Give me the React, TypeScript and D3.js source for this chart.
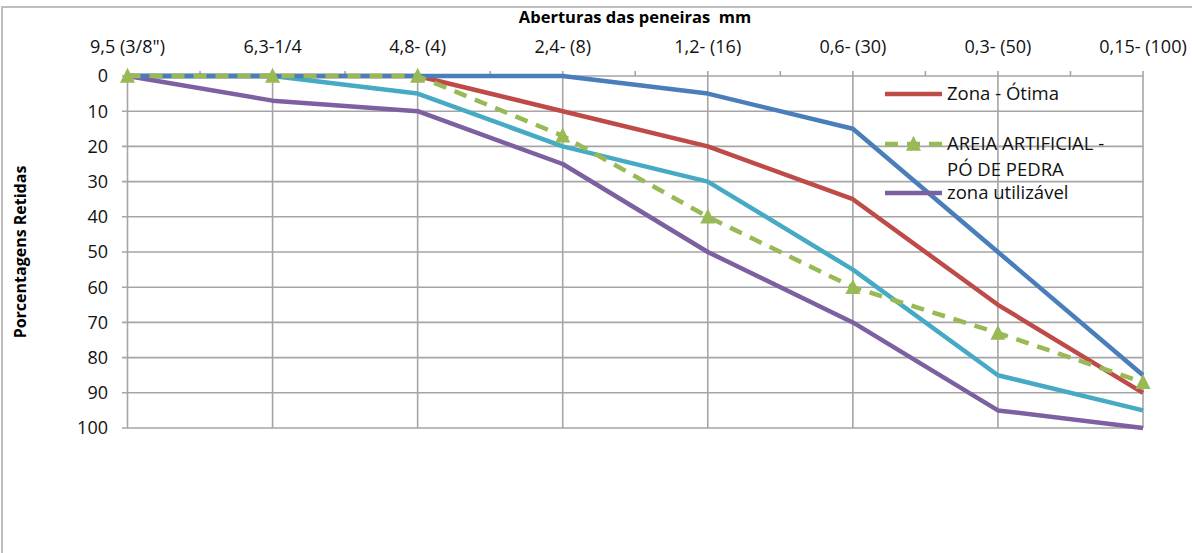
import React from "react";
import * as d3 from "d3";

const categories = ['9,5 (3/8")', "6,3-1/4", "4,8- (4)", "2,4- (8)", "1,2- (16)", "0,6- (30)", "0,3- (50)", "0,15- (100)"];
const yTicks = [0, 10, 20, 30, 40, 50, 60, 70, 80, 90, 100];

const blueUpper = [0, 0, 0, 0, 5, 15, 50, 85];
const zonaOtima = [0, 0, 0, 10, 20, 35, 65, 90];
const cyanLower = [0, 0, 5, 20, 30, 55, 85, 95];
const zonaUtilizavel = [0, 7, 10, 25, 50, 70, 95, 100];
const areiaArtificial = [0, 0, 0, 17, 40, 60, 73, 87];

const W = 1192;
const H = 553;
const FONT = "'Open Sans', sans-serif";

export default function App() {
  const x = d3.scalePoint<string>().domain(categories).range([127.5, 1143]).padding(0);
  const y = d3.scaleLinear().domain([0, 100]).range([76, 428]);
  const line = d3
    .line<number>()
    .x((_, i) => x(categories[i]) as number)
    .y((d) => y(d));

  const step = x.step();
  const mids = categories.slice(0, -1).map((c) => (x(c) as number) + step / 2);
  const grid = "#A5A5A5";

  const series = [
    { data: zonaOtima, color: "#BE4B48", dash: undefined as string | undefined },
    { data: cyanLower, color: "#46AAC5", dash: undefined },
    { data: zonaUtilizavel, color: "#7D60A0", dash: undefined },
    { data: blueUpper, color: "#4A7EBB", dash: undefined },
    { data: areiaArtificial, color: "#98B954", dash: "13 9" },
  ];

  const tri = (cx: number, cy: number, s = 15) =>
    `M${cx},${cy - s * 0.55}L${cx + s / 2},${cy + s * 0.45}L${cx - s / 2},${cy + s * 0.45}Z`;

  const legendX1 = 885;
  const legendX2 = 942;
  const legendTextX = 947;

  return (
    <svg
      width={W}
      height={H}
      style={{ position: "absolute", left: 0, top: 0, background: "#fff" }}
      fontFamily={FONT}
    >
      <rect x={2} y={7} width={W + 10} height={H + 10} fill="#fff" stroke="#BFBFBF" strokeWidth={2} />

      {yTicks.map((t) => (
        <line key={"h" + t} x1={122} x2={1143} y1={y(t)} y2={y(t)} stroke={grid} strokeWidth={1.6} />
      ))}
      {categories.map((c) => (
        <line key={"v" + c} x1={x(c)} x2={x(c)} y1={71} y2={y(100)} stroke={grid} strokeWidth={1.6} />
      ))}
      {mids.map((m, i) => (
        <line key={"m" + i} x1={m} x2={m} y1={71} y2={76} stroke={grid} strokeWidth={1.6} />
      ))}

      <text x={635} y={17} textAnchor="middle" dy="0.35em" fontWeight="bold" fontSize={16.5} fill="#000">
        {"Aberturas das peneiras\u00a0\u00a0mm"}
      </text>
      <text
        transform={`translate(20, ${(y(0) + y(100)) / 2}) rotate(-90)`}
        textAnchor="middle"
        dy="0.35em"
        fontWeight="bold"
        fontSize={16}
        fill="#000"
      >
        Porcentagens Retidas
      </text>

      {categories.map((c) => (
        <text key={"xl" + c} x={x(c)} y={47} textAnchor="middle" dy="0.35em" fontSize={18} fill="#111">
          {c}
        </text>
      ))}
      {yTicks.map((t) => (
        <text key={"yl" + t} x={108} y={y(t)} textAnchor="end" dy="0.35em" fontSize={18} fill="#111">
          {t}
        </text>
      ))}

      {series.map((s, i) => (
        <path
          key={"s" + i}
          d={line(s.data) as string}
          fill="none"
          stroke={s.color}
          strokeWidth={4.5}
          strokeDasharray={s.dash}
          strokeLinejoin="round"
        />
      ))}
      {areiaArtificial.map((v, i) => (
        <path key={"t" + i} d={tri(x(categories[i]) as number, y(v))} fill="#98B954" />
      ))}

      <line x1={legendX1} x2={legendX2} y1={94} y2={94} stroke="#BE4B48" strokeWidth={4.5} />
      <text x={legendTextX} y={94} dy="0.35em" fontSize={18.5} fill="#111">
        Zona - Ótima
      </text>

      <line x1={legendX1} x2={legendX2} y1={144} y2={144} stroke="#98B954" strokeWidth={4.5} strokeDasharray="13 9" />
      <path d={tri((legendX1 + legendX2) / 2, 144)} fill="#98B954" />
      <text x={legendTextX} y={144} dy="0.35em" fontSize={18.5} fill="#111">
        AREIA ARTIFICIAL -
      </text>
      <text x={legendTextX} y={170} dy="0.35em" fontSize={18.5} fill="#111">
        PÓ DE PEDRA
      </text>

      <line x1={legendX1} x2={legendX2} y1={193} y2={193} stroke="#7D60A0" strokeWidth={4.5} />
      <text x={legendTextX} y={193} dy="0.35em" fontSize={18.5} fill="#111">
        zona utilizável
      </text>
    </svg>
  );
}
